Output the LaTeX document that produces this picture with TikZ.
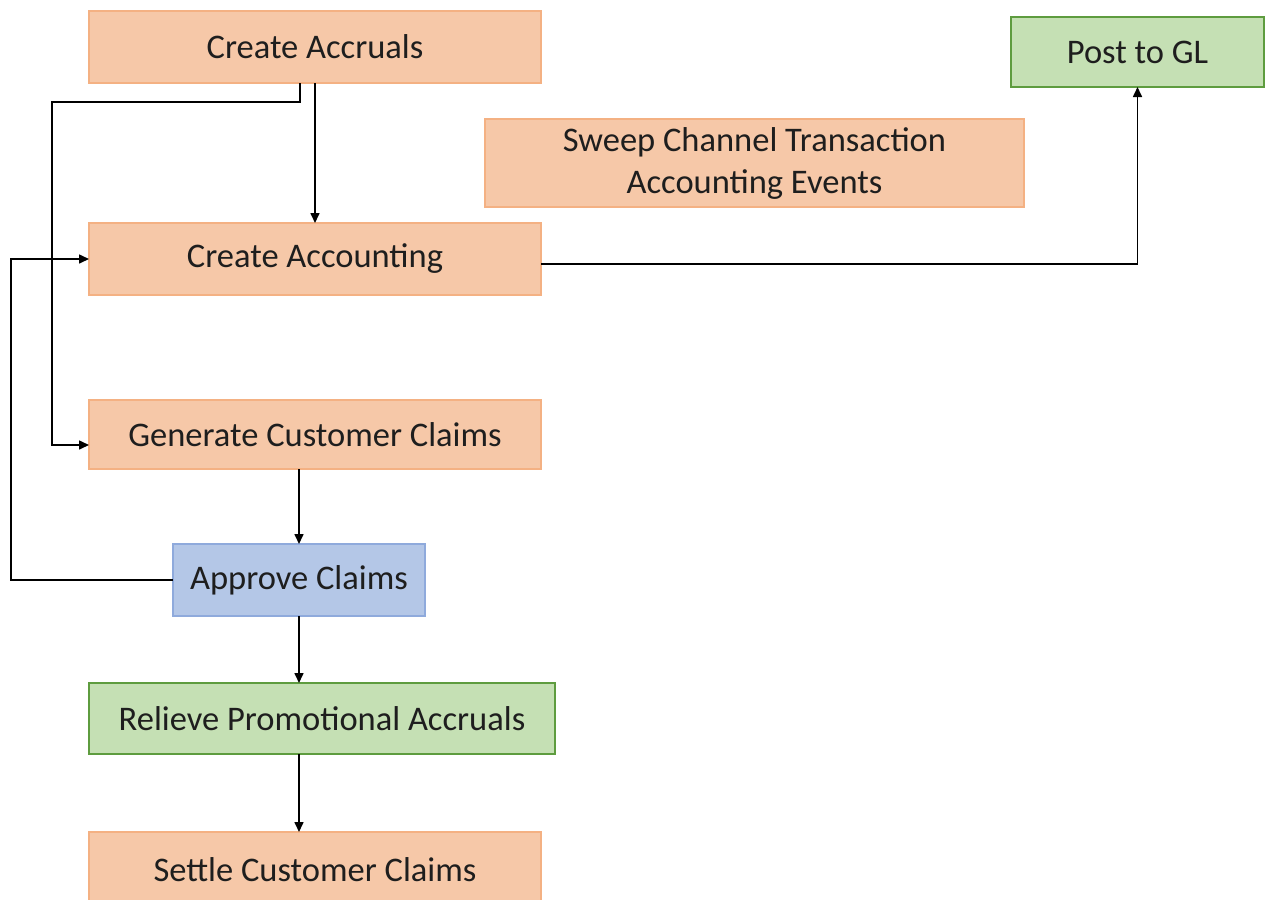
\documentclass[tikz,border=0pt]{standalone}
\usepackage{fontspec}
\setmainfont{Carlito}
\usetikzlibrary{arrows.meta}
\definecolor{ofill}{HTML}{F6C8A8}
\definecolor{odraw}{HTML}{F4B183}
\definecolor{gfill}{HTML}{C5E0B4}
\definecolor{gdraw}{HTML}{5E9C3F}
\definecolor{bfill}{HTML}{B4C7E7}
\definecolor{bdraw}{HTML}{8FAADC}
\definecolor{txt}{HTML}{1E1E1E}
\tikzset{
  box/.style={draw, line width=1.5pt, inner sep=0pt, outer sep=0pt, align=center,
    text=txt, font=\fontsize{34.5}{42}\selectfont},
  obox/.style={box, fill=ofill, draw=odraw},
  gbox/.style={box, fill=gfill, draw=gdraw},
  bbox/.style={box, fill=bfill, draw=bdraw},
  arr/.style={draw=black, line width=1.6pt, -{Triangle[length=10pt,width=9pt]}}
}
\begin{document}
\begin{tikzpicture}[x=1pt,y=-1pt]
\useasboundingbox (0,0) rectangle (1267,900);
\node[obox, minimum width=452pt, minimum height=72pt] (acc) at (315,47) {Create Accruals};
\node[gbox, minimum width=253pt, minimum height=70pt] (gl) at (1137.5,52) {Post to GL};
\node[obox, minimum width=539pt, minimum height=88pt] (sweep) at (754.5,163) {Sweep Channel Transaction\\Accounting Events};
\node[obox, minimum width=452pt, minimum height=72pt] (cacct) at (315,259) {Create Accounting};
\node[obox, minimum width=452pt, minimum height=69pt] (gen) at (315,434.5) {Generate Customer Claims};
\node[bbox, minimum width=252pt, minimum height=72pt] (appr) at (299,580) {Approve Claims};
\node[gbox, minimum width=466pt, minimum height=71pt] (rel) at (322,718.5) {Relieve Promotional Accruals};
\node[obox, minimum width=452pt, minimum height=76pt] (set) at (315,870) {Settle Customer Claims};
\coordinate (c1) at (300,102);
\coordinate (c2) at (52,102);
\coordinate (c3) at (11,580);
\draw[arr] (acc.south) -- (cacct.north);
\draw[arr] (acc.south -| c1) -- (c1) -- (c2) |- ([yshift=-10.5pt]gen.west);
\draw[arr] (appr.west) -- (c3) |- (cacct.west);
\draw[arr] (gen.south -| appr.north) -- (appr.north);
\draw[arr] (appr.south) -- (appr.south |- rel.north);
\draw[arr] (appr.south |- rel.south) -- (appr.south |- set.north);
\draw[arr] ([yshift=-5pt]cacct.east) -| (gl.south);
\end{tikzpicture}
\end{document}
